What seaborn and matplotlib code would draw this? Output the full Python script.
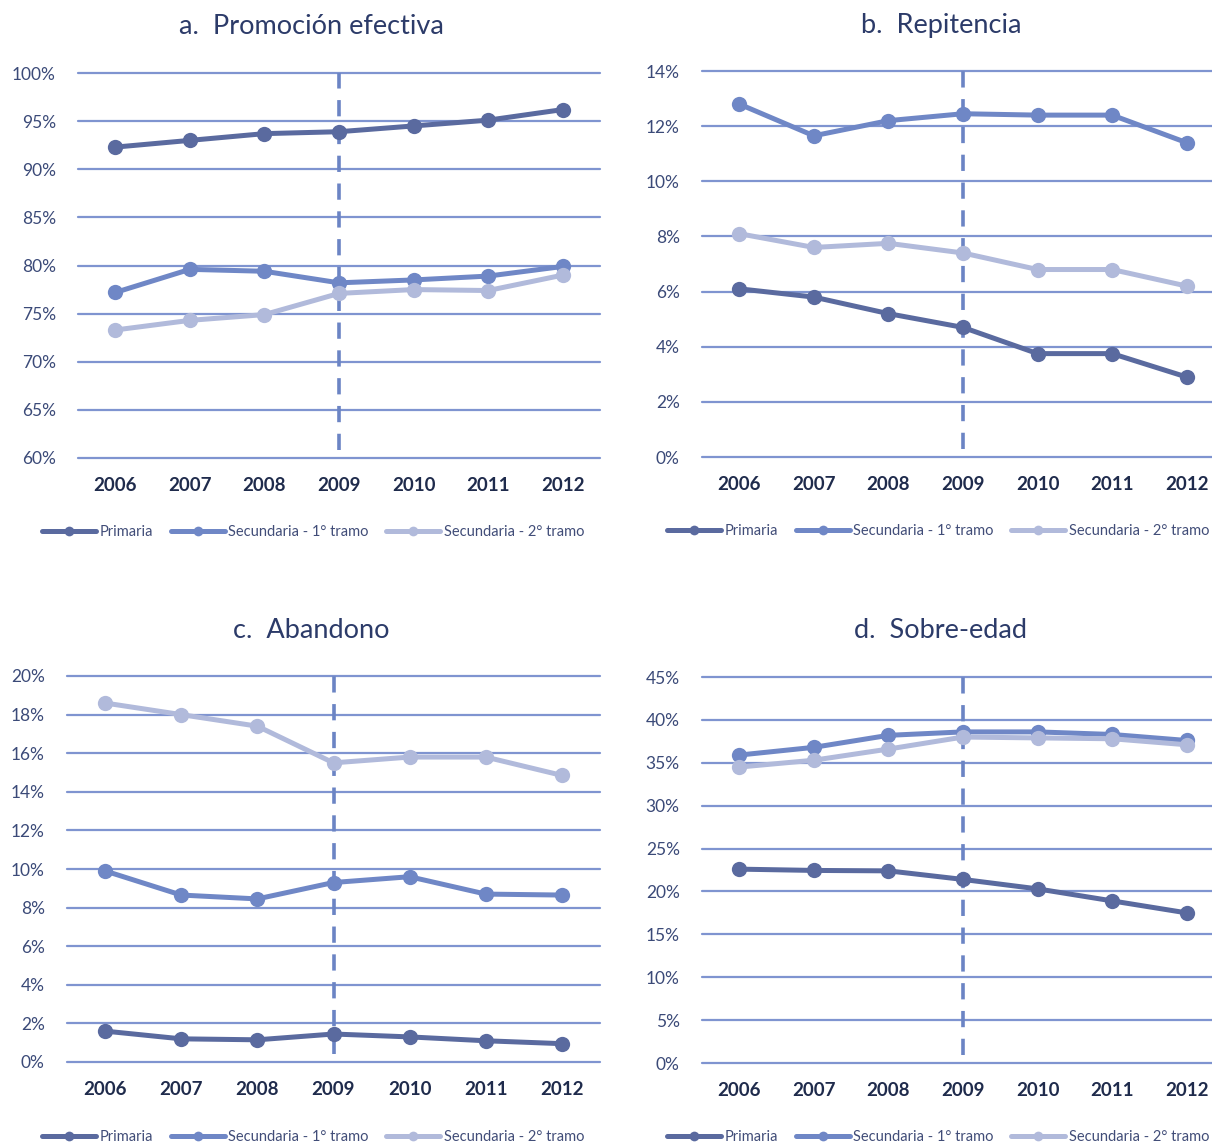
import pandas as pd
import seaborn as sns
from matplotlib import pyplot as plt
from matplotlib.lines import Line2D
from matplotlib.ticker import FuncFormatter

years = [2006, 2007, 2008, 2009, 2010, 2011, 2012]
series = ["Primaria", "Secundaria - 1° tramo", "Secundaria - 2° tramo"]

# values in percent
promocion_prim = [92.3, 93.0, 93.7, 93.9, 94.5, 95.1, 96.2]
promocion_sec1 = [77.2, 79.6, 79.4, 78.2, 78.5, 78.9, 79.9]
promocion_sec2 = [73.3, 74.3, 74.9, 77.1, 77.5, 77.4, 79.0]

repitencia_prim = [6.1, 5.8, 5.2, 4.7, 3.75, 3.75, 2.9]
repitencia_sec1 = [12.8, 11.65, 12.2, 12.45, 12.4, 12.4, 11.4]
repitencia_sec2 = [8.1, 7.6, 7.75, 7.4, 6.8, 6.8, 6.2]

abandono_prim = [1.6, 1.2, 1.15, 1.45, 1.3, 1.1, 0.95]
abandono_sec1 = [9.9, 8.65, 8.45, 9.3, 9.6, 8.7, 8.65]
abandono_sec2 = [18.6, 18.0, 17.4, 15.5, 15.8, 15.8, 14.85]

sobreedad_prim = [22.6, 22.45, 22.4, 21.4, 20.3, 18.9, 17.5]
sobreedad_sec1 = [35.9, 36.8, 38.2, 38.6, 38.6, 38.3, 37.6]
sobreedad_sec2 = [34.5, 35.3, 36.6, 38.0, 37.9, 37.8, 37.1]

colors = {"Primaria": "#5a6a9f", "Secundaria - 1° tramo": "#6f87c6",
          "Secundaria - 2° tramo": "#b1badb"}
grid_col = "#7f94d0"
tick_col = "#3b4a78"

W, H = 1212, 1146


def long_form(prim, sec1, sec2):
    rows = []
    for name, vals in zip(series, [prim, sec1, sec2]):
        for y, v in zip(years, vals):
            rows.append({"year": y, "serie": name, "value": v})
    return pd.DataFrame(rows)


def draw_panel(box, data, ylim, step, title, title_x, title_y, leg_x, leg_y):
    left, top, right, bottom = box
    ax = fig.add_axes([left / W, 1 - bottom / H, (right - left) / W, (bottom - top) / H])
    ax.set_ylim(*ylim)
    ax.set_xlim(2005.5, 2012.5)
    for v in range(ylim[0], ylim[1] + 1, step):
        ax.axhline(v, color=grid_col, lw=1.6, zorder=0, clip_on=False)
    ax.axvline(2009, ymin=0.02, ymax=1, color="#6b84c4", lw=2.6,
               dashes=(4.5, 3.2), zorder=1)
    sns.lineplot(data=data, x="year", y="value", hue="serie", hue_order=series,
                 palette=colors, marker="o", markersize=11, markeredgewidth=0,
                 linewidth=3.6, legend=False, ax=ax, zorder=3)
    ax.set_yticks(range(ylim[0], ylim[1] + 1, step))
    ax.yaxis.set_major_formatter(FuncFormatter(lambda v, p: f"{v:.0f}%"))
    ax.set_xticks(years)
    ax.set_xticklabels([str(y) for y in years], fontweight="bold", color="#1f2b4c",
                       fontsize=13.5)
    ax.tick_params(axis="y", length=0, pad=16, labelsize=12.5, labelcolor=tick_col)
    ax.tick_params(axis="x", length=0, pad=14)
    ax.set_xlabel("")
    ax.set_ylabel("")
    for s in ax.spines.values():
        s.set_visible(False)
    ax.set_facecolor("none")
    ax.grid(False)

    fig.text(title_x / W, 1 - title_y / H, title, ha="center", va="center",
             fontsize=19.5, color="#2c3b69")

    handles = [Line2D([], [], color=colors[s], lw=3.6, marker="o", markersize=7,
                      markeredgewidth=0) for s in series]
    ax.legend(handles, series, loc="center left",
              bbox_to_anchor=((leg_x - left) / (right - left), -(leg_y - bottom) / (bottom - top)),
              ncol=3, frameon=False, fontsize=10.5, handlelength=3.7, handletextpad=0.25,
              columnspacing=1.2, borderpad=0, borderaxespad=0, labelcolor="#414d78")
    return ax


sns.set_theme(style="white")
plt.rcParams["font.family"] = ["Lato", "DejaVu Sans"]

fig = plt.figure(figsize=(W / 100, H / 100), dpi=100)
fig.patch.set_facecolor("white")

draw_panel((78, 73, 600, 458), long_form(promocion_prim, promocion_sec1, promocion_sec2),
           (60, 100), 5, "a.  Promoción efectiva", 311, 27, 42, 532)
draw_panel((702, 71, 1224, 457), long_form(repitencia_prim, repitencia_sec1, repitencia_sec2),
           (0, 14), 2, "b.  Repitencia", 941, 25, 667, 531)
draw_panel((67, 676, 600, 1062), long_form(abandono_prim, abandono_sec1, abandono_sec2),
           (0, 20), 2, "c.  Abandono", 311, 630, 42, 1137)
draw_panel((702, 677, 1224, 1063), long_form(sobreedad_prim, sobreedad_sec1, sobreedad_sec2),
           (0, 45), 5, "d.  Sobre-edad", 941, 630, 667, 1137)

plt.savefig("out.png", dpi=100)
